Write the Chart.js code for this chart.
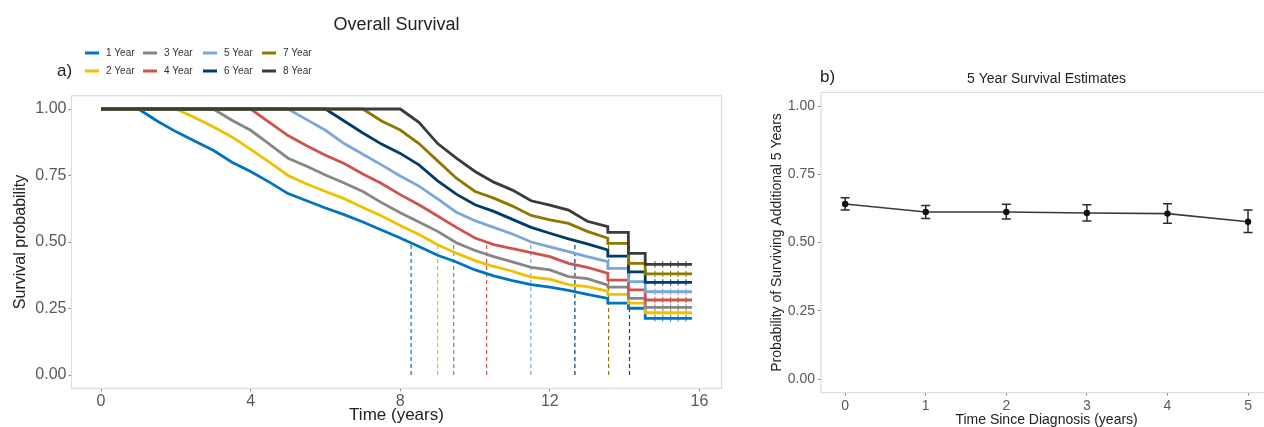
<!DOCTYPE html>
<html><head><meta charset="utf-8">
<script src="https://cdn.jsdelivr.net/npm/chart.js@4.4.1/dist/chart.umd.min.js"></script>
<style>
html,body{margin:0;padding:0;background:#fff;overflow:hidden;width:1264px;height:427px;}
#w1{position:absolute;left:0;top:0;width:740px;height:427px;}
#w2{position:absolute;left:760px;top:0;width:520px;height:427px;}
</style></head><body>
<div id="w1"><canvas id="c1"></canvas></div>
<div id="w2"><canvas id="c2"></canvas></div>
<script>
// ---------- Panel a) data ----------
const seriesNames = ['1 Year','2 Year','3 Year','4 Year','5 Year','6 Year','7 Year','8 Year'];
const seriesColors = ['#0073C2','#EFC000','#868686','#CD534C','#7AA6DC','#003C67','#8F7700','#3B3B3B'];
const times = [0,1,1.5,2,2.5,3,3.5,4,4.5,5,5.5,6,6.5,7,7.5,8,8.5,9,9.5,10,10.5,11,11.5,12,12.5,13,13.55,13.55,14.1,14.1,14.55,14.55,15.8];
const year1 = [1,1,.955,.915,.88,.845,.80,.765,.725,.682,.655,.628,.603,.575,.545,.515,.483,.45,.425,.395,.373,.355,.34,.33,.318,.303,.288,.27,.27,.251,.251,.213,.213];
const year2 = [1,1,1,1,.968,.933,.895,.848,.80,.75,.718,.69,.663,.63,.598,.562,.528,.49,.458,.43,.408,.39,.368,.36,.34,.332,.315,.303,.303,.27,.27,.234,.234];
const year3 = [1,1,1,1,1,1,.958,.92,.868,.815,.785,.752,.722,.69,.648,.61,.575,.54,.497,.468,.445,.425,.405,.395,.37,.362,.338,.33,.33,.288,.288,.254,.254];
const year4 = [1,1,1,1,1,1,1,1,.95,.9,.862,.826,.795,.756,.72,.678,.64,.598,.555,.515,.49,.475,.46,.445,.42,.405,.382,.357,.357,.32,.32,.282,.282];
const year5 = [1,1,1,1,1,1,1,1,1,1,.96,.92,.87,.83,.79,.748,.71,.662,.612,.58,.555,.53,.5,.482,.464,.445,.426,.401,.401,.351,.351,.313,.313];
const year6 = [1,1,1,1,1,1,1,1,1,1,1,1,.955,.91,.868,.833,.79,.73,.68,.64,.615,.585,.555,.533,.512,.493,.47,.447,.447,.388,.388,.348,.348];
const year7 = [1,1,1,1,1,1,1,1,1,1,1,1,1,1,.955,.921,.87,.805,.74,.69,.665,.635,.6,.583,.57,.54,.514,.495,.495,.42,.42,.38,.38];
const year8 = [1,1,1,1,1,1,1,1,1,1,1,1,1,1,1,1,.95,.87,.815,.765,.725,.695,.655,.639,.62,.578,.558,.536,.536,.457,.457,.416,.416];
const medianTimes = [8.29,9.0,9.43,10.31,11.49,12.67,13.57,14.13];
const censorTimes = [14.81,15.02,15.23,15.43,15.64];
const xTicksA = [0,4,8,12,16];
const yTicks = [0,0.25,0.5,0.75,1];

// ---------- Panel b) data ----------
const diagTimes = [0,1,2,3,4,5];
const est5 = [0.641,0.612,0.612,0.608,0.606,0.576];
const low5 = [0.619,0.588,0.586,0.579,0.571,0.537];
const high5 = [0.664,0.636,0.640,0.638,0.642,0.619];
const xTicksB = [0,1,2,3,4,5];

const FONT = '"Liberation Sans", Arial, sans-serif';
const allYears = [year1,year2,year3,year4,year5,year6,year7,year8];

const panelBorder = {
  id:'panelBorder',
  beforeDatasetsDraw(chart){
    const {ctx, chartArea:a} = chart;
    ctx.save(); ctx.strokeStyle='#dcdcdc'; ctx.lineWidth=1.2;
    ctx.strokeRect(a.left, a.top, a.right-a.left, a.bottom-a.top);
    ctx.restore();
  }
};

const legendA = {
  id:'legendA',
  afterDraw(chart){
    const ctx = chart.ctx;
    ctx.save();
    const colX = [85,143,203,262];
    const rowY = [53,71];
    ctx.font = '10px ' + FONT; ctx.textBaseline='middle'; ctx.textAlign='left';
    seriesNames.forEach((n,i)=>{
      const c = Math.floor(i/2), r = i%2;
      ctx.strokeStyle = seriesColors[i]; ctx.lineWidth = 3;
      ctx.beginPath(); ctx.moveTo(colX[c], rowY[r]); ctx.lineTo(colX[c]+14, rowY[r]); ctx.stroke();
      ctx.fillStyle = '#333';
      ctx.fillText(n, colX[c]+21, rowY[r]+0.5);
    });
    ctx.fillStyle='#222'; ctx.font='17px ' + FONT;
    ctx.fillText('a)', 57, 71);
    ctx.restore();
  }
};

const datasetsA = [];
allYears.forEach((vals,i)=>{
  datasetsA.push({
    label: seriesNames[i],
    data: times.map((t,j)=>({x:t, y:vals[j]})),
    borderColor: seriesColors[i], borderWidth: 2.8, pointRadius: 0,
    tension: 0, fill:false, order: 10 - i
  });
  datasetsA.push({
    label: seriesNames[i] + ' censored',
    data: censorTimes.map(t=>({x:t, y:vals[vals.length-1]})),
    showLine:false, pointStyle:'cross', pointRadius:3.2, pointBorderWidth:1,
    borderColor: seriesColors[i], backgroundColor: seriesColors[i], order: 10 - i
  });
});
medianTimes.forEach((m,i)=>{
  datasetsA.push({
    label: seriesNames[i] + ' median',
    data: [{x:m, y:0},{x:m, y:0.5}],
    borderColor: seriesColors[i], borderWidth: 1.2, borderDash:[4,3],
    pointRadius: 0, order: 30 - i
  });
});

new Chart(document.getElementById('c1'), {
  type:'line',
  data:{datasets: datasetsA},
  plugins:[panelBorder, legendA],
  options:{
    responsive:true, maintainAspectRatio:false, animation:false,
    layout:{padding:{top:0, right:18.5, left:0, bottom:0}},
    plugins:{
      legend:{display:false}, tooltip:{enabled:false},
      title:{display:true, text:'Overall Survival', fullSize:false,
        font:{family:FONT, size:18, weight:'normal'}, color:'#222',
        padding:{top:14.2, bottom:59.9}}
    },
    scales:{
      x:{type:'linear', min:-0.79, max:16.59,
        afterBuildTicks:s=>{s.ticks = xTicksA.map(v=>({value:v}));},
        afterFit:s=>{s.height = 38.7;},
        grid:{drawOnChartArea:false, drawTicks:true, tickLength:3, color:'#8a8a8a'},
        border:{display:false},
        ticks:{font:{family:FONT, size:16}, color:'#595959', padding:1, maxRotation:0},
        title:{display:true, text:'Time (years)', font:{family:FONT, size:17}, color:'#222', padding:{top:0,bottom:1}}
      },
      y:{type:'linear', min:-0.05, max:1.05,
        afterBuildTicks:s=>{s.ticks = yTicks.map(v=>({value:v}));},
        afterFit:s=>{s.width = 71.5;},
        grid:{drawOnChartArea:false, drawTicks:true, tickLength:3, color:'#8a8a8a'},
        border:{display:false},
        ticks:{font:{family:FONT, size:16}, color:'#595959', padding:2, callback:v=>Number(v).toFixed(2)},
        title:{display:true, text:'Survival probability', font:{family:FONT, size:16}, color:'#222', padding:{top:11.4,bottom:0}}
      }
    }
  }
});

// ---------- Panel b) ----------
const errorBars = {
  id:'errorBars',
  afterDatasetsDraw(chart){
    const {ctx, scales:{x,y}} = chart;
    ctx.save(); ctx.strokeStyle='#2b2b2b'; ctx.lineWidth=1.5;
    diagTimes.forEach((t,i)=>{
      const px = x.getPixelForValue(t), p1 = y.getPixelForValue(low5[i]), p2 = y.getPixelForValue(high5[i]);
      ctx.beginPath();
      ctx.moveTo(px,p1); ctx.lineTo(px,p2);
      ctx.moveTo(px-4.5,p1); ctx.lineTo(px+4.5,p1);
      ctx.moveTo(px-4.5,p2); ctx.lineTo(px+4.5,p2);
      ctx.stroke();
      ctx.fillStyle='#111'; ctx.beginPath(); ctx.arc(px, y.getPixelForValue(est5[i]), 3.2, 0, Math.PI*2); ctx.fill();
    });
    ctx.fillStyle='#222'; ctx.font='17px ' + FONT; ctx.textBaseline='middle'; ctx.textAlign='left';
    ctx.fillText('b)', 60, 77);
    ctx.restore();
  }
};

new Chart(document.getElementById('c2'), {
  type:'line',
  data:{datasets:[{
    label:'5 Year Survival',
    data: diagTimes.map((t,i)=>({x:t, y:est5[i]})),
    borderColor:'#3a3a3a', borderWidth:1.6, pointRadius:0, tension:0
  }]},
  plugins:[panelBorder, errorBars],
  options:{
    responsive:true, maintainAspectRatio:false, animation:false,
    layout:{padding:{top:0, right:7.8, left:0, bottom:0}},
    plugins:{
      legend:{display:false}, tooltip:{enabled:false},
      title:{display:true, text:'5 Year Survival Estimates', fullSize:false,
        font:{family:FONT, size:14, weight:'normal'}, color:'#222',
        padding:{top:70.6, bottom:5}}
    },
    scales:{
      x:{type:'linear', min:-0.3, max:5.3,
        afterBuildTicks:s=>{s.ticks = xTicksB.map(v=>({value:v}));},
        afterFit:s=>{s.height = 34.35;},
        grid:{drawOnChartArea:false, drawTicks:true, tickLength:3, color:'#8a8a8a'},
        border:{display:false},
        ticks:{font:{family:FONT, size:14}, color:'#595959', padding:2, maxRotation:0},
        title:{display:true, text:'Time Since Diagnosis (years)', font:{family:FONT, size:14, lineHeight:1}, color:'#222', padding:{top:0,bottom:0}}
      },
      y:{type:'linear', min:-0.05, max:1.05,
        afterBuildTicks:s=>{s.ticks = yTicks.map(v=>({value:v}));},
        afterFit:s=>{s.width = 61;},
        grid:{drawOnChartArea:false, drawTicks:true, tickLength:3, color:'#8a8a8a'},
        border:{display:false},
        ticks:{font:{family:FONT, size:14}, color:'#595959', padding:3, callback:v=>Number(v).toFixed(2)},
        title:{display:true, text:'Probability of Surviving Additional 5 Years', font:{family:FONT, size:14}, color:'#222', padding:{top:8.6,bottom:0}}
      }
    }
  }
});
</script>
</body></html>
